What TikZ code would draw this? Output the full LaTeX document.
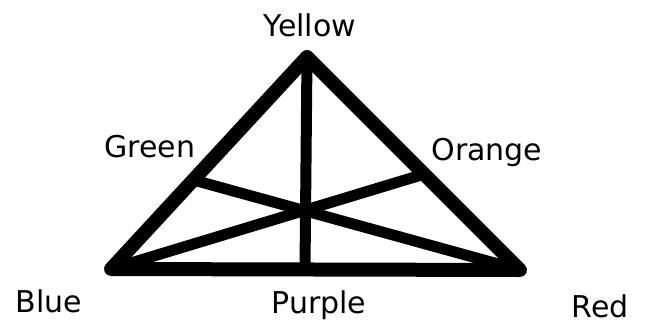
\documentclass[tikz,border=0pt]{standalone}
\usepackage{fontspec}
\setmainfont{DejaVu Sans}
\usetikzlibrary{positioning,calc}
\tikzset{lbl/.style={font=\fontsize{30}{34}\selectfont,inner sep=0pt,anchor=base},side/.style={line width=14pt,line join=round,line cap=round},median/.style={line width=11pt,line cap=butt}}

\begin{document}
\begin{tikzpicture}[x=1pt,y=-1pt]
\useasboundingbox (0,0) rectangle (649,330);
\coordinate (blue) at (111,269); \coordinate (yellow) at (307,57); \coordinate (red) at (520,270);
\coordinate (green) at ($(yellow)!0.58!(blue)$); \coordinate (orange) at ($(yellow)!0.55!(red)$); \coordinate (purple) at (305,269);
\node[lbl] (tyellow) at (310,36) {Yellow};
\node[lbl] (tgreen) at (150,157) {Green};
\node[lbl] (torange) at (487,160) {Orange};
\node[lbl] (tblue) at (49,312) {Blue};
\node[lbl] (tpurple) at (319,313) {Purple};
\node[lbl] (tred) at (600,317) {Red};
\draw[median] (yellow)--(purple); \draw[median] (blue)--(orange); \draw[median] (red)--(green);
\draw[side] (blue)--(yellow)--(red)--cycle;
\end{tikzpicture}
\end{document}
